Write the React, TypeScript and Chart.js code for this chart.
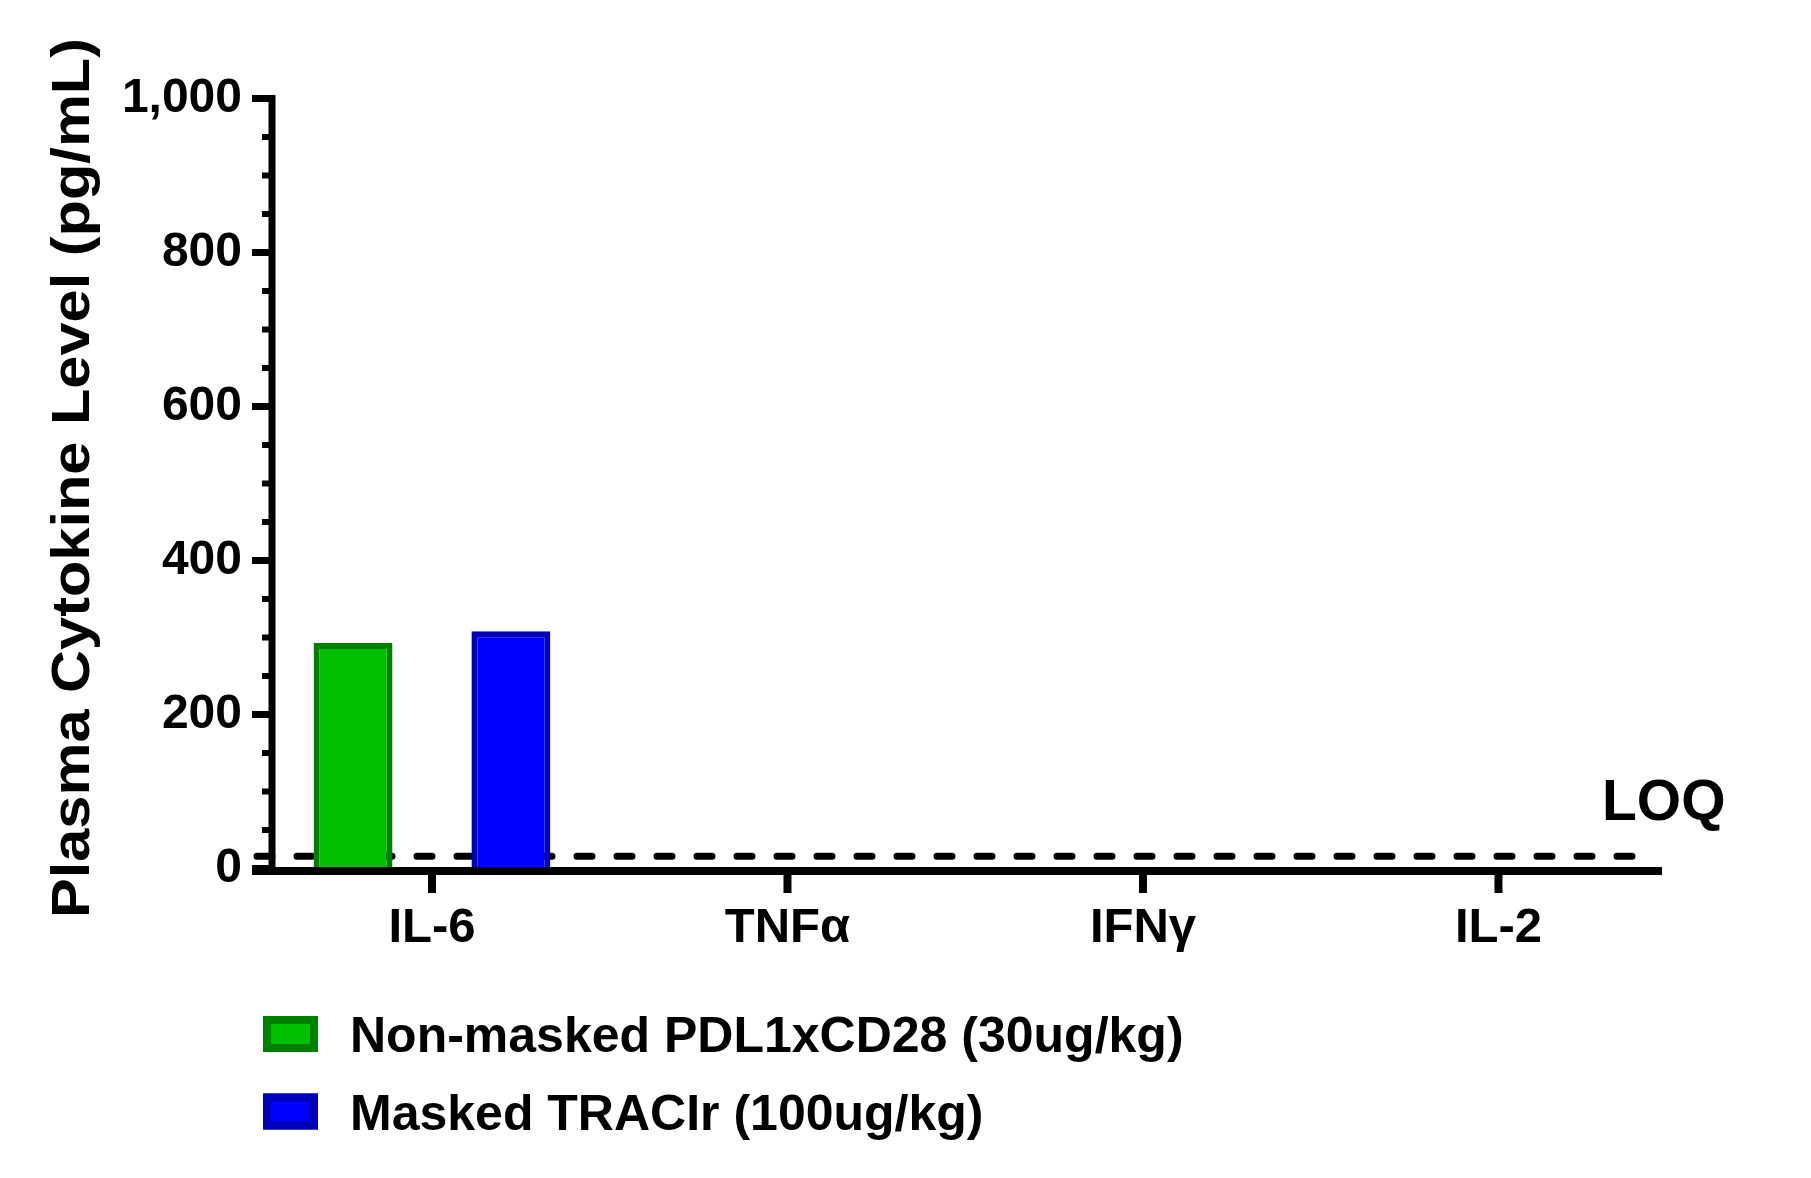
import React, { useEffect, useRef } from 'react';
import { Chart, registerables } from 'chart.js';

Chart.register(...registerables);

// ---------------- data ----------------
const categories = ['IL-6', 'TNFα', 'IFNγ', 'IL-2'];
const seriesNames = ['Non-masked PDL1xCD28 (30ug/kg)', 'Masked TRACIr (100ug/kg)'];
const nonMaskedValues: (number | null)[] = [293, null, null, null];
const maskedValues: (number | null)[] = [308, null, null, null];
const yMajorTicks = [0, 200, 400, 600, 800, 1000];
const yMinorStep = 50;
const LOQ = 16;
const loqLabel = 'LOQ';
const yTitle = 'Plasma Cytokine Level (pg/mL)';

const FONT = '"Liberation Sans", Arial, Helvetica, sans-serif';
const W = 1811;
const H = 1178;

const fillColors = ['#00BF00', '#0000FF'];
const edgeColors = ['#007F00', '#0000B4'];

const decorPlugin = {
  id: 'decor',
  beforeDatasetsDraw(chart: any) {
    const { ctx, chartArea, scales } = chart;
    const y = scales.y;
    const yy = y.getPixelForValue(LOQ);
    ctx.save();
    ctx.strokeStyle = '#000';
    ctx.lineWidth = 7;
    ctx.lineCap = 'round';
    ctx.setLineDash([15, 25]);
    ctx.beginPath();
    ctx.moveTo(chartArea.left - 15, yy);
    ctx.lineTo(chartArea.right - 12, yy);
    ctx.stroke();
    ctx.restore();
  },
  afterDatasetsDraw(chart: any) {
    const { ctx, chartArea, scales } = chart;
    const x = scales.x;
    const y = scales.y;
    const left = chartArea.left;
    const bottom = chartArea.bottom;
    ctx.save();
    ctx.strokeStyle = '#000';
    ctx.fillStyle = '#000';
    ctx.lineCap = 'butt';
    // y axis line
    ctx.lineWidth = 7;
    ctx.beginPath();
    ctx.moveTo(left, y.getPixelForValue(yMajorTicks[yMajorTicks.length - 1]) - 3.5);
    ctx.lineTo(left, bottom + 6.5);
    ctx.stroke();
    // major ticks
    for (const v of yMajorTicks) {
      const py = y.getPixelForValue(v);
      ctx.lineWidth = 7;
      ctx.beginPath();
      ctx.moveTo(left - 20, py);
      ctx.lineTo(left, py);
      ctx.stroke();
    }
    // minor ticks
    const maxV = yMajorTicks[yMajorTicks.length - 1];
    for (let v = yMinorStep; v < maxV; v += yMinorStep) {
      if (yMajorTicks.includes(v)) continue;
      const py = y.getPixelForValue(v);
      ctx.lineWidth = 6;
      ctx.beginPath();
      ctx.moveTo(left - 10, py);
      ctx.lineTo(left, py);
      ctx.stroke();
    }
    // x axis line
    ctx.lineWidth = 8;
    ctx.beginPath();
    ctx.moveTo(left - 20, bottom + 2.5);
    ctx.lineTo(chartArea.right, bottom + 2.5);
    ctx.stroke();
    // x ticks
    categories.forEach((_, i) => {
      const px = x.getPixelForValue(i);
      ctx.beginPath();
      ctx.moveTo(px, bottom + 2.5);
      ctx.lineTo(px, bottom + 24.5);
      ctx.stroke();
    });
    // LOQ label
    ctx.font = `bold 57px ${FONT}`;
    ctx.textAlign = 'left';
    ctx.textBaseline = 'alphabetic';
    ctx.fillText(loqLabel, chartArea.right - 60, y.getPixelForValue(LOQ) - 36);
    ctx.restore();
  },
  afterDraw(chart: any) {
    const { ctx } = chart;
    ctx.save();
    ctx.fillStyle = '#000';
    // y title (rotated, stretched along its length)
    ctx.font = `bold 53px ${FONT}`;
    const w = ctx.measureText(yTitle).width;
    ctx.translate(89, 478);
    ctx.rotate(-Math.PI / 2);
    ctx.scale(880 / w, 1);
    ctx.textAlign = 'center';
    ctx.textBaseline = 'alphabetic';
    ctx.fillText(yTitle, 0, 0);
    ctx.restore();

    // legend
    ctx.save();
    const rowCenters = [1034, 1111.5];
    chart.data.datasets.forEach((ds: any, i: number) => {
      const cy = rowCenters[i];
      ctx.fillStyle = ds.backgroundColor;
      ctx.fillRect(263, cy - 18, 55, 36);
      ctx.strokeStyle = ds.borderColor;
      ctx.lineWidth = 8;
      ctx.strokeRect(267, cy - 14, 47, 28);
      ctx.fillStyle = '#000';
      ctx.font = `bold 50px ${FONT}`;
      ctx.textAlign = 'left';
      ctx.textBaseline = 'alphabetic';
      ctx.fillText(ds.label, 350, cy + 18);
    });
    ctx.restore();
  },
};

export default function App() {
  const canvasRef = useRef<HTMLCanvasElement | null>(null);

  useEffect(() => {
    const canvas = canvasRef.current;
    if (!canvas) return;
    const seriesValues = [nonMaskedValues, maskedValues];
    const chart = new Chart(canvas, {
      type: 'bar',
      data: {
        datasets: seriesValues.map((vals, s) => ({
          label: seriesNames[s],
          data: vals.map((v, i) => ({ x: i, y: v })),
          backgroundColor: fillColors[s],
          borderColor: edgeColors[s],
          borderWidth: 6,
          borderSkipped: 'start',
          categoryPercentage: 0.888,
          barPercentage: 0.5,
        })),
      },
      options: {
        animation: false,
        responsive: false,
        devicePixelRatio: 1,
        layout: { padding: { top: 98.5, right: 149, bottom: 0, left: 0 } },
        plugins: {
          legend: { display: false },
          tooltip: { enabled: false },
        },
        scales: {
          x: {
            type: 'linear',
            min: -0.45,
            max: 3.46,
            offset: false,
            grid: { display: false, drawTicks: false },
            border: { display: false },
            afterBuildTicks: (scale: any) => {
              scale.ticks = categories.map((_, i) => ({ value: i }));
            },
            afterFit: (scale: any) => {
              scale.height = H - 868.5;
            },
            ticks: {
              autoSkip: false,
              maxRotation: 0,
              padding: 31,
              color: '#000',
              font: { family: FONT, size: 49, weight: 'bold' },
              callback: (_v: any, i: number) => categories[i],
            },
          },
          y: {
            type: 'linear',
            min: 0,
            max: yMajorTicks[yMajorTicks.length - 1],
            grid: { display: false, drawTicks: false },
            border: { display: false },
            afterBuildTicks: (scale: any) => {
              scale.ticks = yMajorTicks.map((v) => ({ value: v }));
            },
            afterFit: (scale: any) => {
              scale.width = 272;
            },
            ticks: {
              padding: 30,
              color: '#000',
              font: { family: FONT, size: 48, weight: 'bold' },
              callback: (v: any) => Number(v).toLocaleString('en-US'),
            },
          },
        },
      } as any,
      plugins: [decorPlugin],
    });
    return () => chart.destroy();
  }, []);

  return (
    <div style={{ position: 'absolute', left: 0, top: 0, width: W, height: H, background: '#fff' }}>
      <canvas ref={canvasRef} width={W} height={H} style={{ display: 'block' }} />
    </div>
  );
}
